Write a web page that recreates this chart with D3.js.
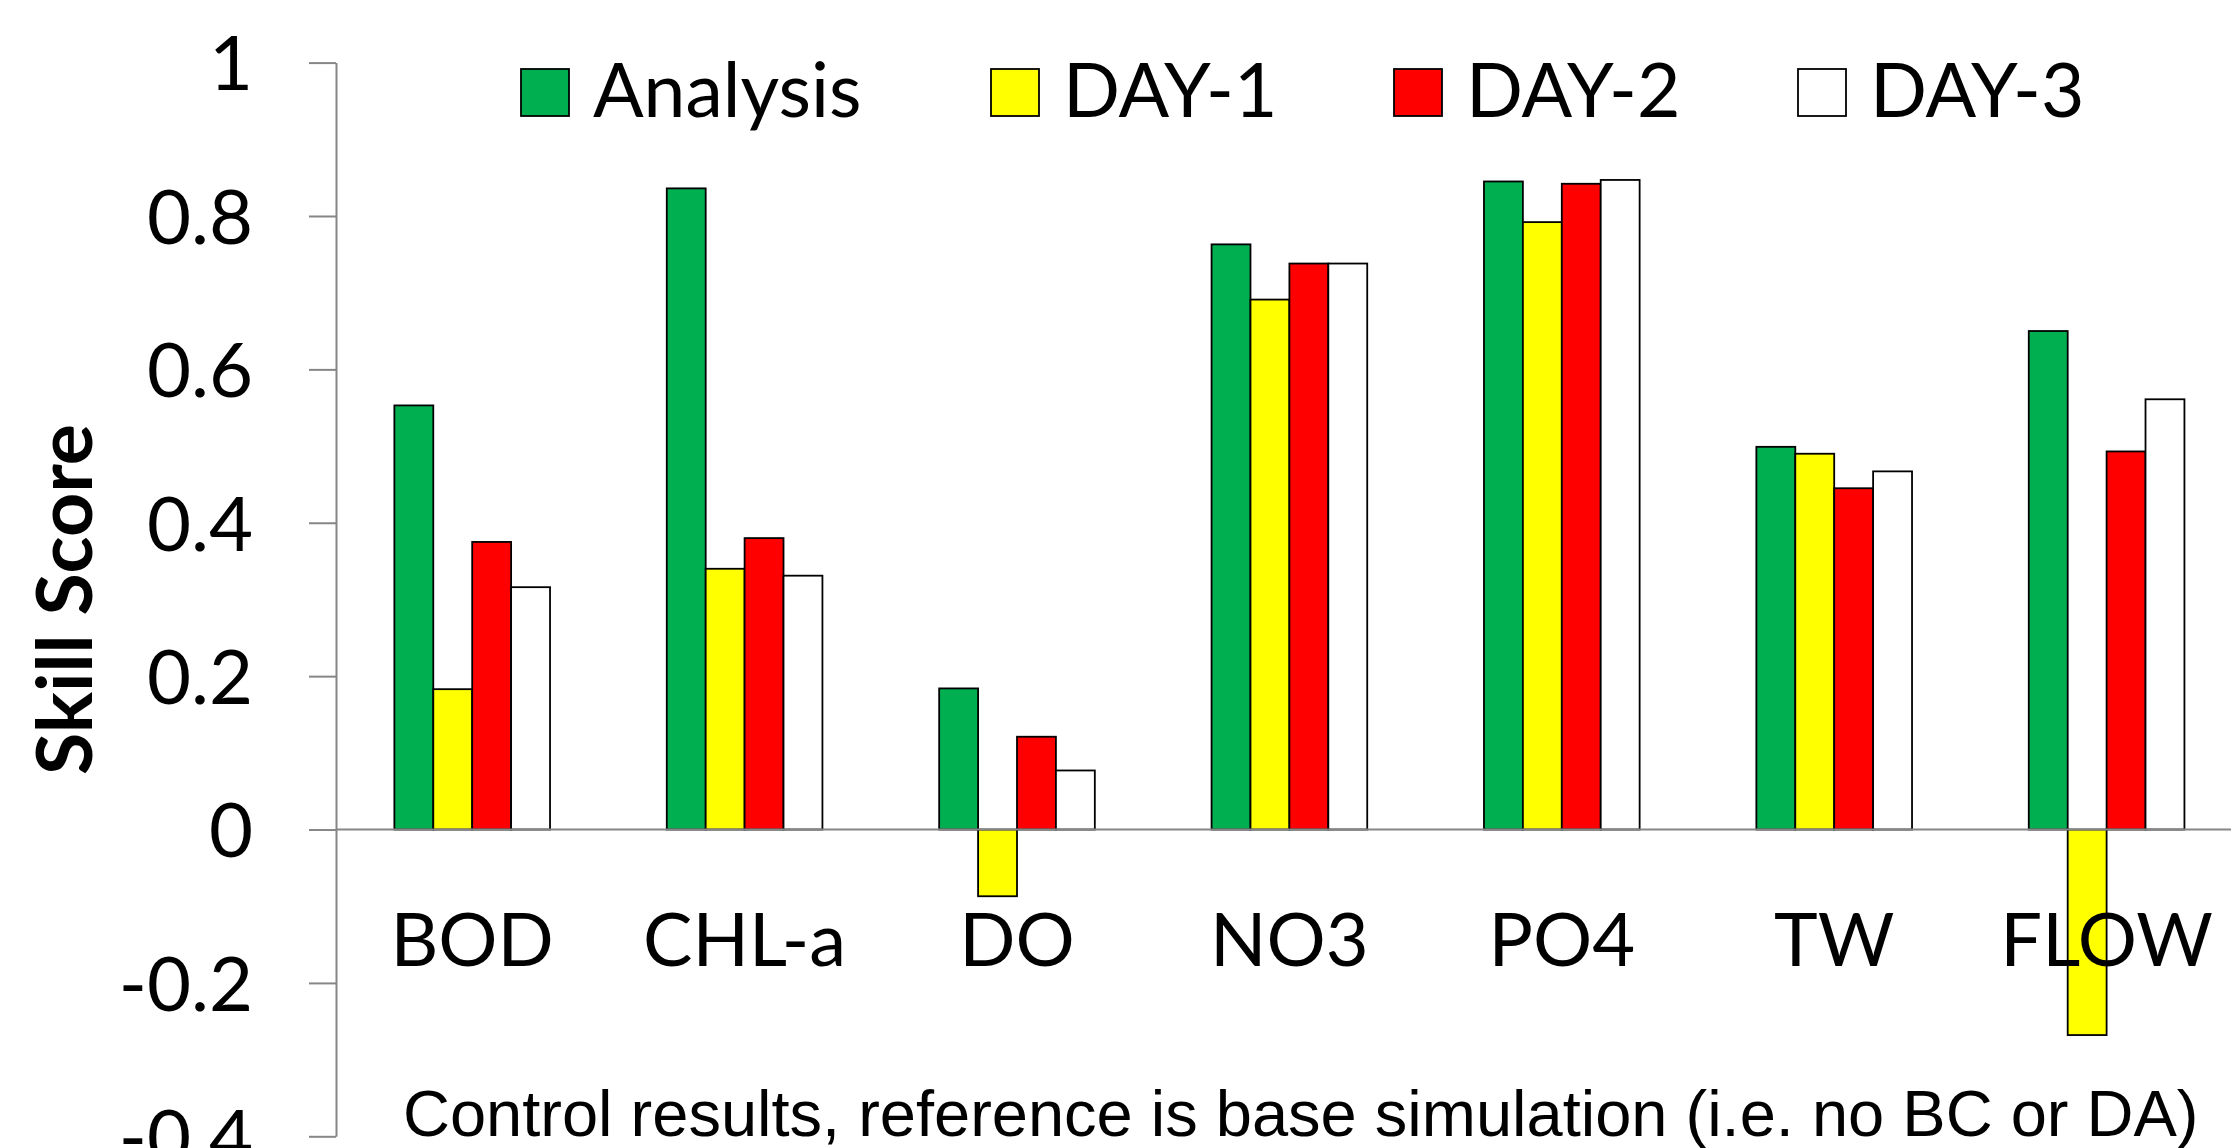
<!DOCTYPE html>
<html><head><meta charset="utf-8">
<script src="https://cdn.jsdelivr.net/npm/d3@7"></script>
<style>body{margin:0;background:#fff;} svg{display:block;background:#fff;}</style>
</head><body>
<svg id="chart" width="2231" height="1148"></svg>
<script>
// ---- data ----
const categories = ["BOD", "CHL-a", "DO", "NO3", "PO4", "TW", "FLOW"];
const seriesNames = ["Analysis", "DAY-1", "DAY-2", "DAY-3"];
const analysis = [0.553, 0.836, 0.184, 0.763, 0.845, 0.499, 0.650];
const day1     = [0.183, 0.340, -0.087, 0.691, 0.792, 0.490, -0.268];
const day2     = [0.375, 0.380, 0.121, 0.738, 0.842, 0.445, 0.493];
const day3     = [0.316, 0.331, 0.077, 0.738, 0.847, 0.467, 0.561];
const yTicks = [1, 0.8, 0.6, 0.4, 0.2, 0, -0.2, -0.4];
const yTickLabels = ["1", "0.8", "0.6", "0.4", "0.2", "0", "-0.2", "-0.4"];
const yTitle = "Skill Score";
const footnote = "Control results, reference is base simulation (i.e. no BC or DA)";
const colors = ["#00B050", "#FFFF00", "#FF0000", "#FFFFFF"];

const seriesValues = [analysis, day1, day2, day3];
const table = categories.map((c, i) => ({cat: c, vals: seriesValues.map((s, j) => ({name: seriesNames[j], v: s[i], k: j}))}));

// ---- layout ----
const svg = d3.select("#chart");
const axisX = 336;
const step = 272.4;
const x0 = d3.scaleBand().domain(categories).range([axisX, axisX + step * categories.length])
  .paddingInner(3 / 7).paddingOuter(3 / 14);
const x1 = d3.scaleBand().domain(seriesNames).range([0, x0.bandwidth()]).padding(0);
const y = d3.scaleLinear().domain([-0.4, 1]).range([1136.3, 62.6]);

const labelFont = "Lato, Carlito, 'Open Sans', sans-serif";
const axisColor = "#868686";

// y axis
const yAxis = d3.axisLeft(y).tickValues(yTicks)
  .tickFormat((d, i) => yTickLabels[i]).tickSize(27).tickSizeOuter(0).tickPadding(56);
const gy = svg.append("g").attr("transform", `translate(${axisX},0)`).call(yAxis);
gy.select(".domain").attr("stroke", axisColor).attr("stroke-width", 2);
gy.selectAll(".tick line").attr("stroke", axisColor).attr("stroke-width", 2);
gy.selectAll(".tick text").attr("fill", "#000").style("font-family", labelFont)
  .style("font-size", "76px").attr("dy", "0.36em");

// bars
const groups = svg.append("g").selectAll("g").data(table).join("g")
  .attr("transform", d => `translate(${x0(d.cat)},0)`);
groups.selectAll("rect").data(d => d.vals).join("rect")
  .attr("x", d => x1(d.name))
  .attr("width", x1.bandwidth())
  .attr("y", d => y(Math.max(0, d.v)))
  .attr("height", d => Math.abs(y(d.v) - y(0)))
  .attr("fill", d => colors[d.k])
  .attr("stroke", "#000").attr("stroke-width", 1.8);

// category axis at zero
svg.append("line").attr("x1", axisX).attr("x2", x0.range()[1])
  .attr("y1", y(0)).attr("y2", y(0)).attr("stroke", axisColor).attr("stroke-width", 2);
svg.append("g").selectAll("text").data(categories).join("text")
  .attr("x", d => x0(d) + x0.bandwidth() / 2).attr("y", 966)
  .attr("text-anchor", "middle").style("font-family", labelFont).style("font-size", "74px")
  .text(d => d);

// y title
svg.append("text").attr("transform", `translate(92,599.5) rotate(-90)`)
  .attr("text-anchor", "middle").style("font-family", labelFont).style("font-weight", "bold")
  .style("font-size", "77px").text(yTitle);

// legend
const legendX = [521, 991, 1394, 1798];
const lg = svg.append("g").selectAll("g").data(seriesNames).join("g")
  .attr("transform", (d, i) => `translate(${legendX[i]},69)`);
lg.append("rect").attr("width", 48).attr("height", 47)
  .attr("fill", (d, i) => colors[i]).attr("stroke", "#000").attr("stroke-width", 1.8);
lg.append("text").attr("x", 72).attr("y", 48).style("font-family", labelFont)
  .style("font-size", "75px").text(d => d);

// footnote
svg.append("text").attr("x", 403).attr("y", 1136)
  .style("font-family", "'Liberation Sans', Arial, sans-serif").style("font-size", "65px")
  .text(footnote);
</script>
</body></html>
